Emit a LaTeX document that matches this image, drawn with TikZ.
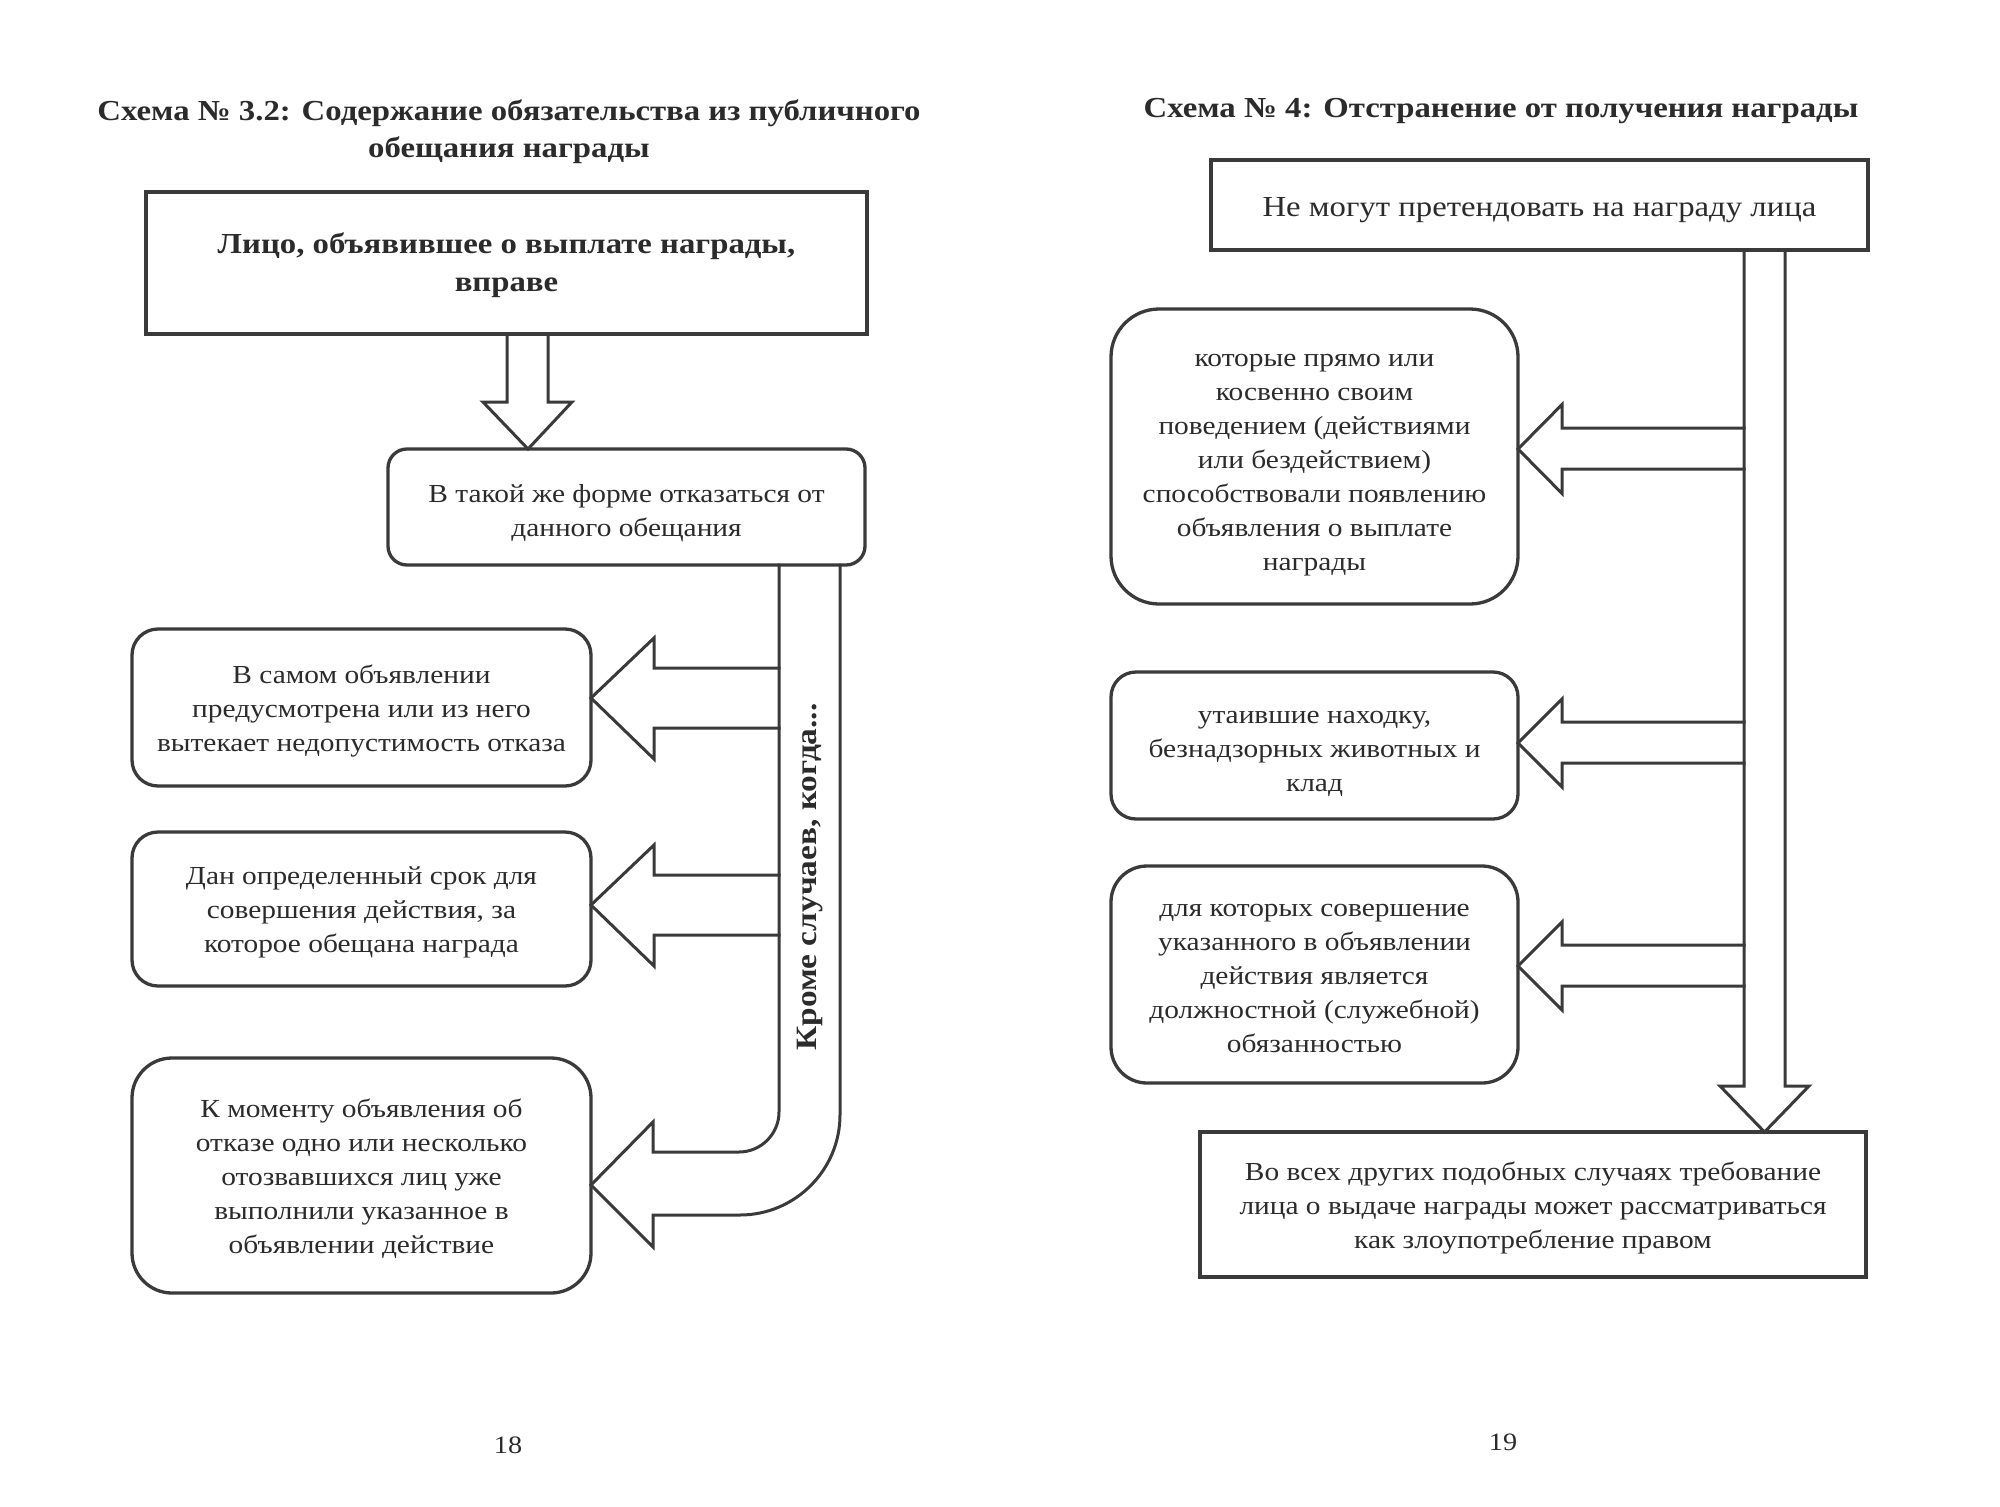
\documentclass[tikz,border=0pt]{standalone}
\usepackage{fontspec}
\setmainfont[FakeStretch=1.13]{Liberation Serif}
\definecolor{ln}{HTML}{3A3A3A}
\definecolor{tx}{HTML}{2B2B2B}
\newcommand\bodyfnt{\fontsize{26}{34}\selectfont}
\newcommand\ttlfnt{\fontsize{29}{37}\selectfont\bfseries}
\begin{document}
\begin{tikzpicture}[x=1pt,y=-1pt,
  every node/.style={inner sep=0pt, outer sep=0pt, text=tx, align=center},
  sqbox/.style={draw=ln, line width=3.5pt},
  rbox/.style={draw=ln, line width=3.3pt, rounded corners=#1},
  btxt/.style={font=\bodyfnt},
  hollow/.style={draw=ln, line width=3pt, line join=miter, line cap=rect},
  ttl/.style={font=\ttlfnt},
  pnum/.style={font=\fontsize{25}{30}\selectfont}]
\useasboundingbox (0,0) rectangle (2000,1507);
\fill[white] (0,0) rectangle (2000,1507);

% ---------- left page ----------
\node[ttl] (t1) at (509,132) {Схема № 3.2: Содержание обязательства из публичного\\обещания награды};

\node[sqbox, line width=4pt, minimum width=721pt, minimum height=142pt] (A) at (506.5,263) {};
\node[font=\fontsize{29}{38}\selectfont\bfseries] (At) at ([yshift=-2pt]A.center)
  {Лицо, объявившее о выплате награды,\\вправе};

\node[rbox=19pt, minimum width=477pt, minimum height=116pt] (B) at (626.5,507) {};
\node[btxt] (Bt) at ([yshift=-6pt]B.center) {В такой же форме отказаться от\\данного обещания};

\node[rbox=26pt, minimum width=459pt, minimum height=157pt] (C) at (361.5,707.5) {};
\node[btxt] (Ct) at ([yshift=-3pt]C.center)
  {В самом объявлении\\предусмотрена или из него\\вытекает недопустимость отказа};

\node[rbox=26pt, minimum width=459pt, minimum height=154pt] (D) at (361.5,909) {};
\node[btxt] (Dt) at ([yshift=-3pt]D.center)
  {Дан определенный срок для\\совершения действия, за\\которое обещана награда};

\node[rbox=40pt, minimum width=459pt, minimum height=235pt] (E) at (361.5,1175.5) {};
\node[btxt] (Et) at ([yshift=-3pt]E.center)
  {К моменту объявления об\\отказе одно или несколько\\отозвавшихся лиц уже\\выполнили указанное в\\объявлении действие};

% arrow A -> B
\draw[hollow] (507,0 |- A.south) -- (507,402) -- (483,402) -- (528,0 |- B.north)
  -- (572,402) -- (548,402) -- (548,0 |- A.south);

% trunk + arrow to E
\draw[hollow] (779,0 |- B.south) -- (779,1112) .. controls (779,1134) and (761,1152) .. (739,1152)
  -- (653,1152) -- (653,1122) -- (E.east |- 0,1185) -- (653,1247) -- (653,1215) -- (740,1215)
  .. controls (795,1215) and (840,1170) .. (840,1115) -- (840,0 |- B.south);
% arrows to C and D
\draw[hollow] (779,668) -- (654,668) -- (654,638) -- (C.east |- 0,698) -- (654,759) -- (654,728) -- (779,728);
\draw[hollow] (779,875) -- (654,875) -- (654,845) -- (D.east |- 0,905) -- (654,966) -- (654,935) -- (779,935);

\node[rotate=90, font=\fontsize{29.5}{34}\selectfont\bfseries] (kr) at (810,877) {Кроме случаев, когда...};

\node[pnum] (p18) at (508,1445) {18};

% ---------- right page ----------
\node[ttl] (t2) at (1501,111) {Схема № 4: Отстранение от получения награды};

\node[sqbox, minimum width=657pt, minimum height=90pt] (F) at (1539.5,205) {};
\node[font=\fontsize{29}{34}\selectfont] (Ft) at ([yshift=-5pt]F.center) {Не могут претендовать на награду лица};

\node[rbox=48pt, minimum width=407pt, minimum height=295pt] (G) at (1314.5,456.5) {};
\node[btxt] (Gt) at ([yshift=-9pt]G.center)
  {которые прямо или\\косвенно своим\\поведением (действиями\\или бездействием)\\способствовали появлению\\объявления о выплате\\награды};

\node[rbox=25pt, minimum width=407pt, minimum height=147pt] (H) at (1314.5,745.5) {};
\node[btxt] (Ht) at ([yshift=-8pt]H.center)
  {утаившие находку,\\безнадзорных животных и\\клад};

\node[rbox=36pt, minimum width=407pt, minimum height=217pt] (I) at (1314.5,974.5) {};
\node[btxt] (It) at ([yshift=-4pt]I.center)
  {для которых совершение\\указанного в объявлении\\действия является\\должностной (служебной)\\обязанностью};

\node[sqbox, minimum width=666pt, minimum height=145pt] (J) at (1533,1204.5) {};
\node[btxt] (Jt) at ([yshift=-3pt]J.center)
  {Во всех других подобных случаях требование\\лица о выдаче награды может рассматриваться\\как злоупотребление правом};

% trunk arrow F -> J
\draw[hollow] (1744,0 |- F.south) -- (1744,1086) -- (1720,1086) -- (1764.5,0 |- J.north)
  -- (1809,1086) -- (1785,1086) -- (1785,0 |- F.south);
% branches
\draw[hollow] (1744,428) -- (1562,428) -- (1562,404.5) -- (G.east |- 0,449) -- (1562,493.5) -- (1562,469) -- (1744,469);
\draw[hollow] (1744,722) -- (1562,722) -- (1562,699) -- (H.east |- 0,743) -- (1562,787) -- (1562,763) -- (1744,763);
\draw[hollow] (1744,945) -- (1562,945) -- (1562,922) -- (I.east |- 0,966) -- (1562,1010) -- (1562,986) -- (1744,986);

\node[pnum] (p19) at (1503,1442) {19};
\end{tikzpicture}
\end{document}
